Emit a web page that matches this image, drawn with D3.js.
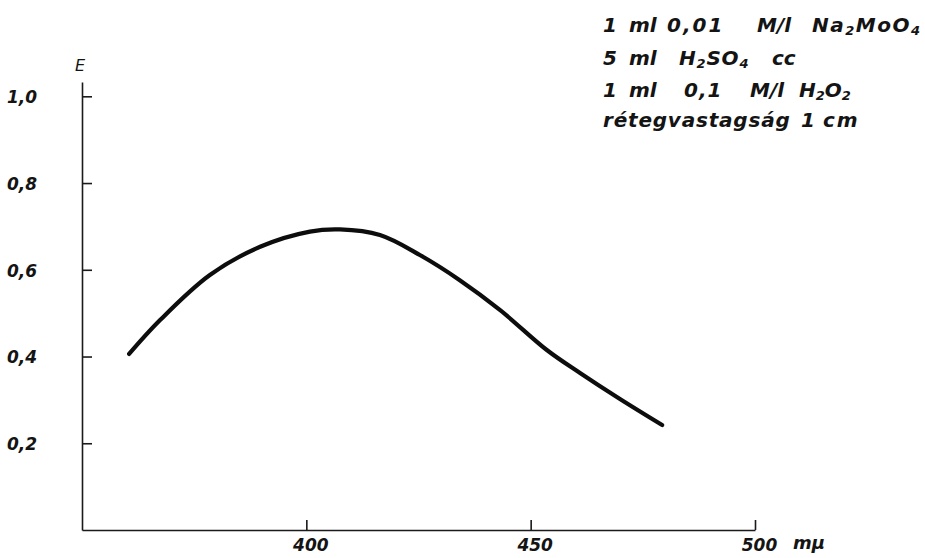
<!DOCTYPE html>
<html>
<head>
<meta charset="utf-8">
<script src="https://cdn.jsdelivr.net/npm/d3@7"></script>
<style>
  html, body { margin: 0; padding: 0; background: #fff; }
  svg { display: block; }
  text { font-family: "DejaVu Sans", sans-serif; font-style: italic; fill: #141414; }
</style>
</head>
<body>
<svg id="chart" width="925" height="558"></svg>
<script>
// Absorption spectrum: wavelength (mμ) vs extinction E
const wavelengths = [360.5, 367.4, 378.5, 389.7, 400.8, 407.5, 416.4, 425.3, 434.2, 443.2, 453.6, 461.0, 469.9, 479.3];
const extinction  = [0.406, 0.484, 0.588, 0.653, 0.688, 0.693, 0.680, 0.634, 0.576, 0.507, 0.415, 0.362, 0.302, 0.242];

const xTicks = [400, 450, 500];
const yTicks = [0.2, 0.4, 0.6, 0.8, 1.0];
const yTickLabels = ["0,2", "0,4", "0,6", "0,8", "1,0"];

const svg = d3.select("#chart");

const x = d3.scaleLinear().domain([350, 500]).range([82, 755]);
const y = d3.scaleLinear().domain([0, 1.033]).range([530, 82]);

// y axis: ticks point inwards, labels set well to the left
const yAxis = d3.axisLeft(y)
  .tickValues(yTicks)
  .tickFormat((d, i) => yTickLabels[i])
  .tickSizeInner(-10)
  .tickSizeOuter(0)
  .tickPadding(45);

const gy = svg.append("g")
  .attr("transform", `translate(${x(350)},0)`)
  .call(yAxis);
gy.select(".domain").attr("stroke", "#1a1a1a").attr("stroke-width", 1.6);
gy.selectAll(".tick line").attr("stroke", "#1a1a1a").attr("stroke-width", 1.6);
gy.selectAll(".tick text")
  .attr("font-family", "DejaVu Sans, sans-serif")
  .attr("font-style", "italic")
  .attr("font-weight", "bold")
  .attr("font-size", 17)
  .attr("fill", "#141414")
  .attr("dy", "0.38em");

// x axis: ticks point upwards
const xAxis = d3.axisBottom(x)
  .tickValues(xTicks)
  .tickFormat(d3.format("d"))
  .tickSizeInner(-10)
  .tickSizeOuter(0)
  .tickPadding(9);

const gx = svg.append("g")
  .attr("transform", `translate(0,${y(0)})`)
  .call(xAxis);
gx.select(".domain").attr("stroke", "#1a1a1a").attr("stroke-width", 1.6);
gx.selectAll(".tick line").attr("stroke", "#1a1a1a").attr("stroke-width", 1.6);
gx.selectAll(".tick text")
  .attr("font-family", "DejaVu Sans, sans-serif")
  .attr("font-style", "italic")
  .attr("font-weight", "bold")
  .attr("font-size", 17)
  .attr("fill", "#141414")
  .attr("dx", 4);

// axis titles
svg.append("text")
  .attr("x", x(350) - 2).attr("y", y(1.033) - 11)
  .attr("text-anchor", "middle")
  .attr("font-size", 16)
  .text("E");

svg.append("text")
  .attr("x", x(500) + 38).attr("y", y(0) + 19)
  .attr("font-size", 18)
  .attr("font-weight", "bold")
  .text("mμ");

// spectrum curve
const pts = wavelengths.map((w, i) => [w, extinction[i]]);
const line = d3.line()
  .x(d => x(d[0]))
  .y(d => y(d[1]))
  .curve(d3.curveCatmullRom.alpha(0.5));

svg.append("path")
  .datum(pts)
  .attr("d", line)
  .attr("fill", "none")
  .attr("stroke", "#0d0d0d")
  .attr("stroke-width", 4.2)
  .attr("stroke-linecap", "round")
  .attr("stroke-linejoin", "round");

// experimental conditions, top right
const note = svg.append("g")
  .attr("font-size", 20)
  .attr("font-weight", "bold");

function chem(textEl, parts) {
  // parts: [string, isSubscript]
  parts.forEach(([s, sub]) => {
    const t = textEl.append("tspan").text(s);
    if (sub) t.attr("font-size", 13).attr("baseline-shift", "-22%");
  });
}

function noteLine(baseY, words) {
  words.forEach(([xPos, parts, spacing]) => {
    const t = note.append("text").attr("x", xPos).attr("y", baseY);
    if (spacing) t.attr("letter-spacing", spacing);
    chem(t, parts);
  });
}

noteLine(32, [
  [603, [["1"]]], [629, [["ml"]]], [667, [["0,01"]], 2], [757, [["M/l"]]],
  [812, [["Na"], ["2", true], ["MoO"], ["4", true]], 1.5]
]);
noteLine(65, [
  [603, [["5"]]], [629, [["ml"]]],
  [679, [["H"], ["2", true], ["SO"], ["4", true]], 0.8], [772, [["cc"]]]
]);
noteLine(97, [
  [603, [["1"]]], [629, [["ml"]]], [684, [["0,1"]], 1], [750, [["M/l"]]],
  [799, [["H"], ["2", true], ["O"], ["2", true]]]
]);
noteLine(127, [
  [603, [["rétegvastagság"]], 0.8], [801, [["1"]]], [823, [["cm"]], 2]
]);
</script>
</body>
</html>
